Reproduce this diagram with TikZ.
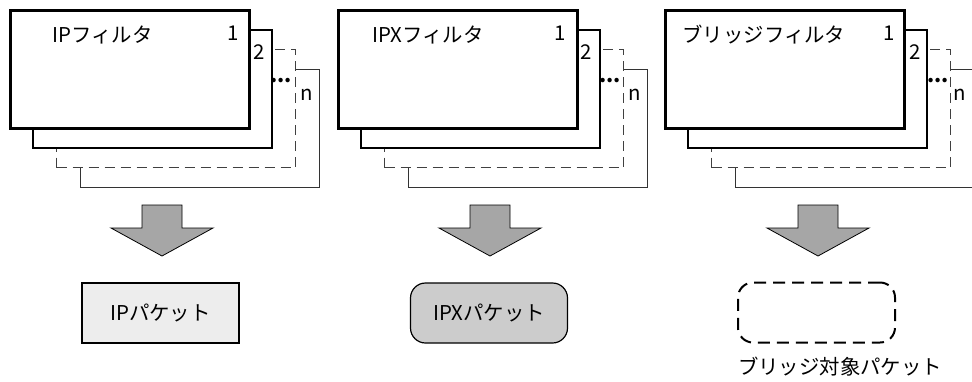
\documentclass[tikz,border=0pt]{standalone}
\usepackage{fontspec}
\setmainfont{Noto Sans CJK JP}
\begin{document}
\begin{tikzpicture}[x=0.5pt, y=-0.5pt,
  font=\fontsize{10.2pt}{12pt}\selectfont,
  sheet/.style={fill=white, minimum width=119.5pt, minimum height=59pt, inner sep=0pt, anchor=north west},
  first/.style={sheet, draw, line width=1.5pt},
  second/.style={sheet, draw, line width=1pt},
  third/.style={sheet, draw=black!75, line width=0.5pt, dash pattern=on 5pt off 3pt},
  last/.style={sheet, draw=black!80, line width=0.5pt},
  lbl/.style={inner sep=0pt},
  bigarrow/.style={fill=black!35, draw, line width=0.4pt},
  packet/.style={minimum width=78.5pt, minimum height=30pt, inner sep=0pt}]
\clip (0,0) rectangle (972,381);

% IP filter sheets
\node (ipn) [last] at (80,69) {};
\node (ip3) [third] at (56,49) {};
\node (ip2) [second] at (32,29) {};
\node (ip1) [first] at (9,9) {};
\node (ipt) [lbl, anchor=west] at (52,35) {IPフィルタ};
\node (ipa) [lbl] at (233,33) {1};
\node (ipb) [lbl] at (259,52) {2};
\node (ipc) [lbl, anchor=base] at (281,82) {\textbf{...}};
\node (ipd) [lbl] at (307,95) {n};

% IPX filter sheets
\node (ipxn) [last] at (408,69) {};
\node (ipx3) [third] at (384,49) {};
\node (ipx2) [second] at (360,29) {};
\node (ipx1) [first] at (337,9) {};
\node (ipxt) [lbl, anchor=west] at (372,35) {IPXフィルタ};
\node (ipxa) [lbl] at (560,33) {1};
\node (ipxb) [lbl] at (586,52) {2};
\node (ipxc) [lbl, anchor=base] at (610,82) {\textbf{...}};
\node (ipxd) [lbl] at (635,95) {n};

% bridge filter sheets
\node (brn) [last] at (735,69) {};
\node (br3) [third] at (711,49) {};
\node (br2) [second] at (687,29) {};
\node (br1) [first] at (664,9) {};
\node (brt) [lbl, anchor=west] at (682,35) {ブリッジフィルタ};
\node (bra) [lbl] at (889,33) {1};
\node (brb) [lbl] at (915,52) {2};
\node (brc) [lbl, anchor=base] at (938,82) {\textbf{...}};
\node (brd) [lbl] at (960,95) {n};

% block arrows
\draw [bigarrow] (142,205) -- (182,205) -- (182,228) -- (213,228) -- (162,256) -- (111,228) -- (142,228) -- cycle;
\draw [bigarrow] (470,205) -- (510,205) -- (510,228) -- (541,228) -- (490,256) -- (439,228) -- (470,228) -- cycle;
\draw [bigarrow] (798,205) -- (838,205) -- (838,228) -- (869,228) -- (818,256) -- (767,228) -- (798,228) -- cycle;

% packets
\node (ippkt) [packet, draw, line width=0.6pt, fill=black!7] at (160.5,313) {IPパケット};
\node (ipxpkt) [packet, draw, line width=0.6pt, fill=black!20, rounded corners=7.5pt] at (489,313) {IPXパケット};
\node (brpkt) [packet, draw, line width=1pt, dash pattern=on 6pt off 3.5pt, rounded corners=7.5pt] at (816.5,312.5) {};
\node (brlbl) [lbl] at (840,367) {ブリッジ対象パケット};
\end{tikzpicture}
\end{document}
